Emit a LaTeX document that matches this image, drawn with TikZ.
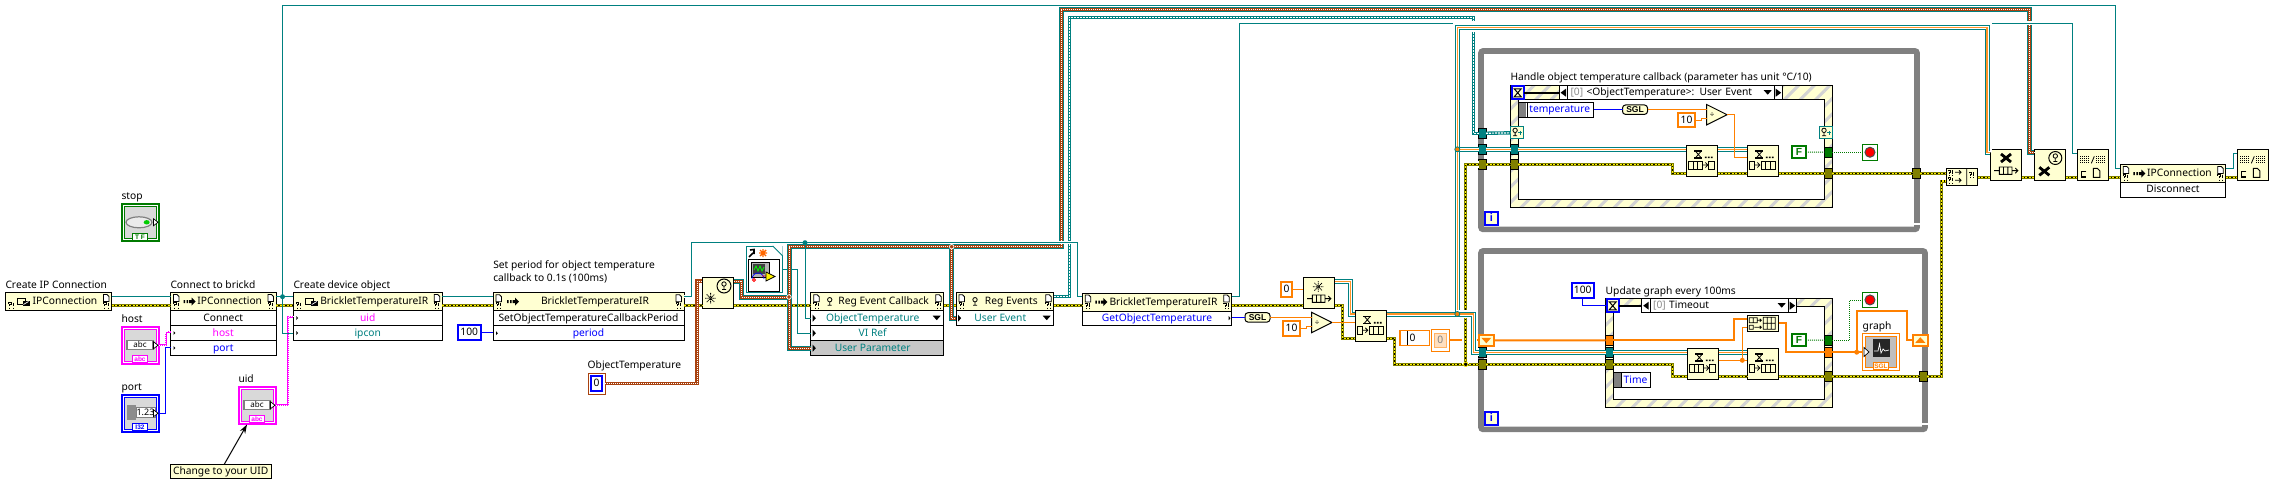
\documentclass[tikz,border=0pt]{standalone}
\usepackage{fontspec}
\setmainfont{Noto Sans}
\newfontfamily\lvtagfont{Liberation Sans}
\usetikzlibrary{arrows.meta,patterns.meta,shapes.geometric}
\definecolor{lvteal}{HTML}{008080}
\definecolor{lvbrown}{HTML}{A8420F}
\definecolor{lvorange}{HTML}{FF8000}
\definecolor{lvpink}{HTML}{FF00FF}
\definecolor{lvblue}{HTML}{0000FF}
\definecolor{lvgreen}{HTML}{007A00}
\definecolor{lvolive}{HTML}{808000}
\definecolor{lvgray}{HTML}{808080}
\definecolor{lvbeige}{HTML}{FFFFD2}
\newcommand{\lvfont}{\fontsize{10.25}{13}\selectfont}
\newcommand{\methodmarks}[1]{
  \pic at ([shift={(3,2)}]#1.north west) {docmark};
  \pic at ([shift={(3,-8)}]#1.south west) {errmark};
  \pic at ([shift={(-8,2)}]#1.north east) {docmark};
  \pic at ([shift={(-8,-8)}]#1.south east) {errmark};
}
\newcommand{\ctormarks}[1]{
  \pic at ([shift={(3,-8)}]#1.south west) {errmark};
  \pic at ([shift={(-8,2)}]#1.north east) {docmark};
  \pic at ([shift={(-8,-8)}]#1.south east) {errmark};
}
\newcommand{\selmarks}[1]{
  \pic at (#1.west) {selleft};
  \pic at (#1.east) {selright};
  \pic at ([xshift=-15pt]#1.east) {dropmark};
}
\tikzset{
  every node/.style={inner sep=0pt,outer sep=0pt,font=\lvfont,text height=8pt,text depth=2pt},
  lvlabel/.style={anchor=west},
  lvbox/.style={draw=black,line width=1pt,anchor=north west},
  lvhead/.style={lvbox,fill=lvbeige,minimum height=18pt,execute at begin node=\hspace*{13pt}},
  lvrow/.style={lvbox,fill=white,minimum height=15pt},
  regrow/.style={lvrow,text=lvteal,minimum width=133pt,execute at end node=\hspace*{9pt}},
  lvfunc/.style={lvbox,fill=lvbeige,minimum width=31.4pt,minimum height=31.4pt},
  lvctl/.style={anchor=north west,draw=#1,fill=white,line width=2pt,minimum size=36.5pt},
  lvtag/.style={draw=#1,fill=white,text=#1,line width=.8pt,font=\fontsize{6.5}{6.5}\selectfont\lvtagfont\bfseries,text height=5pt,text depth=0pt,minimum width=15pt,minimum height=7pt},
  lvconst/.style={anchor=north west,draw=#1,fill=white,line width=2pt},
  lvterm/.style={draw=black,fill=#1,line width=1pt,minimum size=7.5pt},
  dotjoin/.style={circle,fill=#1,minimum size=5pt,text height=0pt,text depth=0pt},
  evjoin/.style={circle,fill=lvbrown,draw=white,line width=.7pt,minimum size=4.5pt,text height=0pt,text depth=0pt},
  whileloop/.style={anchor=north west,draw=lvgray,line width=5.6pt,rounded corners=2pt},
  evframe/.style={lvbox,preaction={fill=lvbeige},pattern={Lines[angle=45,distance=11pt,line width=3pt]},pattern color=lvgray!35},
  evinner/.style={lvbox,fill=white},
  looptag/.style={anchor=north west,draw=lvblue,line width=2pt,fill=lvbeige,text=lvblue,font=\fontsize{11}{13}\selectfont\lvtagfont\bfseries,minimum size=13pt},
  selbox/.style={lvbox,fill=white,minimum height=14pt,align=left,execute at begin node=\hspace*{11.5pt}},
  evdata/.style={lvbox,fill=white,text=lvblue,minimum height=15pt,execute at begin node=\hspace*{7pt}},
  evport/.style={lvbox,draw=lvteal,fill=lvbeige,minimum width=13.4pt,minimum height=11.7pt},
  waitbox/.style={anchor=north west,draw=lvblue,line width=2pt,fill=lvbeige,minimum width=12pt,minimum height=13pt},
  stopbox/.style={anchor=north west,draw=lvgreen,fill=white,line width=1pt,minimum size=15.5pt},
  shiftreg/.style={anchor=north west,draw=lvorange,line width=2pt,fill=lvbeige,minimum width=15pt,minimum height=10.5pt},
  sglnode/.style={lvbox,fill=lvbeige,rounded corners=3pt,font=\fontsize{8.5}{9}\selectfont\lvtagfont\bfseries,minimum width=25pt,minimum height=9.4pt,text height=6.5pt,text depth=0pt},
  divnode/.style={draw=black,line width=1pt,fill=lvbeige,isosceles triangle,isosceles triangle stretches,minimum width=20.5pt,minimum height=20.5pt,anchor=apex,font=\fontsize{8}{8}\selectfont,text height=5pt,text depth=0pt},
  tealwire/.style={draw=lvteal,line width=1pt},
  bluewire/.style={draw=lvblue,line width=1pt},
  numwire/.style={draw=lvorange,line width=1pt},
  thickwire/.style={draw=lvorange,line width=2pt},
  boolwire/.style={draw=lvgreen,line width=1pt,dash pattern=on 1pt off 1pt},
  wiregap/.style={preaction={draw=white,line width=#1}},
  errwire/.style={draw=black,line width=1.5pt,preaction={draw=lvolive,line width=3pt},postaction={draw=yellow,line width=1.5pt,dash pattern=on 2pt off 1.5pt}},
  eventwire/.style={draw=lvbrown,line width=3pt,preaction={draw=lvteal,line width=5pt},postaction={draw=white,line width=1pt,dash pattern=on 1pt off 1pt}},
  enumwire/.style={draw=lvbrown,line width=3.6pt,postaction={draw=white,line width=1pt,dash pattern=on 1pt off 1pt}},
  regwire/.style={draw=lvteal,line width=3.4pt,postaction={draw=white,line width=1.2pt,dash pattern=on 2pt off 1pt}},
  queuewire/.style={draw=lvorange!85,line width=1.2pt,preaction={draw=lvteal,line width=5pt},preaction={draw=white,line width=3pt}},
  strwire/.style={draw=lvpink,line width=2pt,postaction={draw=white,line width=.8pt,dash pattern=on 1pt off 1pt}},
  pics/docmark/.style={code={\draw[line width=.8pt,fill=white] (0,0) -- (3.5,0) -- (5.5,2) -- (5.5,7) -- (0,7) -- cycle;}},
  pics/errmark/.style={code={\draw[line width=.9pt] (0,1) -- (0,0) -- (2.5,0) -- (2.5,2) -- (1.3,2) -- (1.3,3.5) (1.3,5) -- (1.3,6) (4.5,0) -- (4.5,3.5) (4.5,5) -- (4.5,6);}},
  pics/ctorglyph/.style={code={\draw[line width=1pt] (0,-3) rectangle (8,3); \fill (5,-1) rectangle (12,4); \draw[white,line width=.7pt] (6,3) -- (11,0);}},
  pics/methglyph/.style={code={\fill (0,-1.5) rectangle (1.5,1.5) (3,-1.5) rectangle (4.5,1.5) (5.5,-1.5) rectangle (9,1.5); \fill (8,-4) -- (12,0) -- (8,4) -- cycle;}},
  pics/antenna/.style={code={\draw[line width=.8pt] (0,-2) circle (2.2) (0,.2) -- (0,3.5) (-2,3.5) -- (2,3.5);}},
  pics/portmark/.style={code={\fill (0,-#1) -- (#1*.9,0) -- (0,#1) -- cycle;}},
  pics/outmark/.style={code={\draw[line width=.7pt,fill=white] (-5,-3.5) -- (-.5,0) -- (-5,3.5) -- cycle;}},
  pics/dropmark/.style={code={\fill (-4,-2.5) -- (4,-2.5) -- (0,2) -- cycle;}},
  pics/selleft/.style={code={\fill (1.5,0) -- (7,-4) -- (7,4) -- cycle; \draw (8.4,-7) -- (8.4,7);}},
  pics/selright/.style={code={\fill (-1.5,0) -- (-7,-4) -- (-7,4) -- cycle; \draw (-8.4,-7) -- (-8.4,7);}},
  pics/stargl/.style={code={\draw[line width=.8pt,dash pattern=on 1pt off .6pt] (-#1,0) -- (#1,0) (0,-#1) -- (0,#1) (-#1*.7,-#1*.7) -- (#1*.7,#1*.7) (-#1*.7,#1*.7) -- (#1*.7,-#1*.7);}},
  pics/boldx/.style={code={\draw[line width=2.8pt] (-5,-4) -- (5,4) (-5,4) -- (5,-4);}},
  pics/hourgl/.style={code={\draw[line width=1.3pt] (8,6) -- (16,6) (8,13) -- (16,13); \draw[line width=.8pt] (9,6) -- (15,13) (15,6) -- (9,13); \fill (18.5,11.5) rectangle +(1.7,1.7) (21.5,11.5) rectangle +(1.7,1.7) (24.5,11.5) rectangle +(1.7,1.7);}},
  pics/enqgl/.style={code={\draw[line width=.9pt] (2.5,16) rectangle (7,24.5) (14,16) rectangle (28,24.5) (18.6,16) -- (18.6,24.5) (23.3,16) -- (23.3,24.5); \draw[line width=.8pt] (7,20) -- (12.5,20) (10,17.5) -- (12.5,20) -- (10,22.5);}},
  pics/deqgl/.style={code={\draw[line width=.9pt] (2.5,16) rectangle (16,24.5) (22,16) rectangle (28,24.5) (7,16) -- (7,24.5) (11.5,16) -- (11.5,24.5); \draw[line width=.8pt] (16,20) -- (21.5,20) (19,17.5) -- (21.5,20) -- (19,22.5);}},
  pics/queuegl/.style={code={\draw[line width=.9pt] (9,17.7) rectangle (21.7,25) (13.2,17.7) -- (13.2,25) (17.5,17.7) -- (17.5,25) (3.7,21.3) -- (9,21.3) (21.7,21.3) -- (27.6,21.3) (25,18.7) -- (27.6,21.3) -- (25,24);}},
  pics/closegl/.style={code={\draw[line width=1pt,dash pattern=on 1pt off 1pt] (3,7.5) -- (12,7.5) (3,9.5) -- (12,9.5) (3,11.5) -- (12,11.5) (3,13.5) -- (12,13.5) (19,7.5) -- (28,7.5) (19,9.5) -- (28,9.5) (19,11.5) -- (28,11.5) (19,13.5) -- (28,13.5); \draw[line width=.8pt] (14,14) -- (17,7); \draw[line width=1.6pt] (9,22) -- (4,22) -- (4,27.5) -- (9,27.5); \draw[line width=.9pt] (16,19) -- (20,19) -- (22.5,21.5) -- (22.5,28) -- (16,28) -- cycle;}},
  pics/buildgl/.style={code={\draw[line width=.8pt] (2,2.5) rectangle (10,7.5) (6,2.5) -- (6,7.5) (2,10) rectangle (6,14) (10,5) -- (14,5) (7,12) -- (14,12) (12.5,3.5) -- (14,5) -- (12.5,6.5) (12.5,10.5) -- (14,12) -- (12.5,13.5) (16,2) rectangle (28,14) (20,2) -- (20,14) (24,2) -- (24,14) (16,8) -- (28,8);}},
  pics/mergegl/.style={code={\draw[line width=.8pt] (9,4) -- (15,4) (9,12) -- (15,12) (13,2) -- (15,4) -- (13,6) (13,10) -- (15,12) -- (13,14) (20.7,0) -- (20.7,17);}},
  pics/vigl/.style={code={\draw[line width=1pt,fill=white] (2.3,13.3) rectangle (33.3,45); \draw[line width=1pt,fill=lvgray!60] (5.7,16.7) rectangle (23.3,31.7); \fill[black!75] (7,18) rectangle (19,28); \draw[green,line width=.8pt] (8,24) -- (10,20) -- (12,25) -- (14,20) -- (16,25) -- (18,21); \draw[lvblue,line width=.7pt] (6,33) arc (180:360:6); \draw[red,line width=.8pt] (8,34) circle (1.5) (16,30) -- (28,30); \fill[yellow] (20,26) -- (29,30.5) -- (20,35) -- cycle; \draw[line width=.7pt] (20,26) -- (29,30.5) -- (20,35) -- cycle; \draw[line width=1.6pt] (3,11) -- (7,7) (4,4) -- (8,3.5) -- (8,8); \draw[lvorange!80!red,line width=1.4pt] (13,7) -- (21,7) (17,3) -- (17,11) (14,4) -- (20,10) (14,10) -- (20,4);}}
}
\begin{document}
\begin{tikzpicture}[x=1pt,y=-1pt,line width=1pt]
\useasboundingbox (0,0) rectangle (2274,484);
\coordinate (refrow) at (0,296.7);
\coordinate (errrow) at (0,305.3);
\node[whileloop,minimum width=436pt,minimum height=178.3pt] (loopA) at (1481,51) {};
\fill[white] (1914,223.3) rectangle (1921,224.8);
\node[whileloop,minimum width=444pt,minimum height=178.3pt] (loopB) at (1481,251) {};
\fill[white] (1921,423.3) rectangle (1928.5,424.8);
\node[looptag] (iterA) at (1485,212.3) {i};
\node[looptag] (iterB) at (1485,412.3) {i};
\node[evframe,minimum width=321.6pt,minimum height=122pt] (evA) at (1510.7,85.3) {};
\node[evinner,minimum width=306pt,minimum height=99.3pt] (evAin) at (1518.7,100) {};
\node[evframe,minimum width=226.6pt,minimum height=109pt] (evB) at (1605.7,298.3) {};
\node[evinner,minimum width=211.4pt,minimum height=93pt] (evBin) at (1613.3,306.3) {};
\node[lvlabel] (lbstop) at (121.5,196) {stop};
\node[lvlabel] (lbhost) at (121.5,319.5) {host};
\node[lvlabel] (lbport) at (121.5,387.5) {port};
\node[lvlabel] (lbuid) at (238.5,379) {uid};
\node[lvlabel] (lbipcon) at (5.5,285.3) {Create IP Connection};
\node[lvlabel] (lbconnect) at (170.5,285.3) {Connect to brickd};
\node[lvlabel] (lbdevice) at (293.5,285.3) {Create device object};
\node[lvlabel,align=left] (lbperiod) at (493.3,278.5) {Set period for object temperature\\callback to 0.1s (100ms)};
\node[lvlabel] (lbenum) at (587.7,365) {ObjectTemperature};
\node[lvlabel] (lbgraph) at (1862.7,326) {graph};
\node[lvlabel] (lbhandle) at (1510.5,78) {Handle object temperature callback (parameter has unit °C/10)};
\node[lvlabel] (lbupdate) at (1605.7,291) {Update graph every 100ms};
\node[lvctl=lvgreen] (stopctl) at (122,204) {};
\draw[lvgreen,fill=black!15,line width=.8pt] (124.5,206.5) rectangle (156.5,238.5);
\draw[black!50,fill=black!8,line width=1.2pt] (139,222.3) ellipse (13 and 5.5);
\fill[green!80!black] (146.7,222.3) ellipse (3 and 2.2);
\node[lvtag=lvgreen] (stoptag) at (140,236.5) {T F};
\node[lvctl=lvpink] (hostctl) at (122,327) {};
\draw[lvpink,fill=black!15,line width=.8pt] (124.5,329.5) rectangle (156.5,361.5);
\node[draw=black!50,fill=white,line width=1.5pt,minimum width=26pt,minimum height=9pt,font=\fontsize{8}{8}\selectfont,text height=5.5pt,text depth=0pt] (hostval) at (140,345) {abc};
\node[lvtag=lvpink] (hosttag) at (140,359.3) {abc};
\node[lvctl=lvblue] (portctl) at (122,395) {};
\draw[lvblue,fill=black!15,line width=.8pt] (124.5,397.5) rectangle (156.5,429.5);
\fill[black!45] (127,405) rectangle (136,420);
\node[draw=black!50,fill=white,line width=1pt,minimum width=19pt,minimum height=9.6pt,font=\fontsize{9}{9}\selectfont,text height=6.5pt,text depth=0pt] (portval) at (145.5,412.6) {1.23};
\node[lvtag=lvblue] (porttag) at (140,427.3) {I32};
\node[lvctl=lvpink] (uidctl) at (239,387) {};
\draw[lvpink,fill=black!15,line width=.8pt] (241.5,389.5) rectangle (273.5,421.5);
\node[draw=black!50,fill=white,line width=1.5pt,minimum width=26pt,minimum height=9pt,font=\fontsize{8}{8}\selectfont,text height=5.5pt,text depth=0pt] (uidval) at (257,405) {abc};
\node[lvtag=lvpink] (uidtag) at (257,419.3) {abc};
\node[lvhead,minimum width=106pt] (ipconn) at (5.5,292.5) {IPConnection};
\node[lvhead,minimum width=105.5pt] (connect) at (170.5,292.5) {IPConnection};
\node[lvrow,minimum width=105.5pt] (connectA) at (170.5,310.5) {Connect};
\node[lvrow,minimum width=105.5pt,text=lvpink] (connectB) at (170.5,325.5) {host};
\node[lvrow,minimum width=105.5pt,text=lvblue] (connectC) at (170.5,340.5) {port};
\node[lvhead,minimum width=149pt] (device) at (293.3,292.5) {BrickletTemperatureIR};
\node[lvrow,minimum width=149pt,text=lvpink] (deviceA) at (293.3,310.5) {uid};
\node[lvrow,minimum width=149pt,text=lvteal] (deviceB) at (293.3,325.5) {ipcon};
\node[lvconst=lvblue,minimum width=22.5pt,minimum height=15pt] (hundredA) at (458,325) {100};
\node[lvhead,minimum width=191pt] (setperiod) at (493,292.7) {BrickletTemperatureIR};
\node[lvrow,minimum width=191pt] (setperiodA) at (493,310.7) {SetObjectTemperatureCallbackPeriod};
\node[lvrow,minimum width=191pt,text=lvblue] (setperiodB) at (493,325.7) {period};
\node[lvconst=lvbrown,minimum width=17pt,minimum height=21pt,line width=1pt] (objenum) at (588,373) {};
\node[draw=lvblue,line width=2pt,fill=white,minimum width=11pt,minimum height=15pt] (objval) at (596.5,383.5) {0};
\node[lvfunc] (mkevent) at (702.3,277.3) {};
\node[lvbox,draw=lvteal,fill=white,minimum width=36.7pt,minimum height=46pt] (vifile) at (746,246) {};
\node[lvhead,minimum width=133pt] (regcb) at (810.7,292.7) {Reg Event Callback};
\node[regrow] (regcbA) at (810.7,310.7) {ObjectTemperature};
\node[regrow] (regcbB) at (810.7,325.7) {VI Ref};
\node[regrow,fill=black!22] (regcbC) at (810.7,340.7) {User Parameter};
\node[lvhead,minimum width=97.7pt] (regev) at (956,292.7) {Reg Events};
\node[regrow,minimum width=97.7pt] (regevA) at (956,310.7) {User Event};
\node[lvhead,minimum width=149.4pt] (getval) at (1082.3,293) {BrickletTemperatureIR};
\node[lvrow,minimum width=149.4pt,minimum height=14.3pt,text=lvblue] (getvalA) at (1082.3,311) {GetObjectTemperature};
\node[sglnode] (sgl) at (1245,312.7) {SGL};
\node[lvconst=lvorange,minimum width=10.5pt,minimum height=14.5pt] (zeroA) at (1281.3,282.3) {0};
\node[lvconst=lvorange,minimum width=16.5pt,minimum height=14.5pt] (tenA) at (1283.3,321.3) {10};
\node[divnode] (divA) at (1332,322.5) {÷};
\node[lvfunc] (mkqueue) at (1303.3,277.3) {};
\node[lvfunc] (enq) at (1355.3,310.3) {};
\node[lvconst=lvorange,line width=1.5pt,minimum width=29.5pt,minimum height=15pt,text width=29.5pt,align=left] (arrconst) at (1400,330.5) {\hspace*{9.5pt}0};
\node[lvconst=lvorange,line width=1pt,minimum width=18.5pt,minimum height=22pt] (arrshow) at (1431,329.3) {};
\node[draw=lvorange!60,fill=lvorange!25,text=black!50,minimum width=12pt,minimum height=14pt,line width=1pt] (arrval) at (1440.2,340.3) {0};
\node[shiftreg] (srL) at (1478.8,335) {};
\node[shiftreg] (srR) at (1912.8,335) {};
\node[lvterm=lvteal] (tuA1) at (1482.3,133.3) {};
\node[lvterm=lvteal] (tuA2) at (1482.3,149.3) {};
\node[lvterm=lvolive] (tuA3) at (1482.3,164.3) {};
\node[lvterm=lvolive] (tuA4) at (1916.3,173.3) {};
\node[lvterm=lvteal] (tuB2) at (1482.3,352.4) {};
\node[lvterm=lvolive] (tuB3) at (1482.3,364.3) {};
\node[lvterm=lvolive] (tuB4) at (1923.3,376.3) {};
\node[lvterm=lvteal] (tcA2) at (1514.3,149.3) {};
\node[lvterm=lvolive] (tcA3) at (1514.3,164.3) {};
\node[lvterm=lvgreen] (tcA5) at (1828.3,152.3) {};
\node[lvterm=lvolive] (tcA4) at (1828.3,173.3) {};
\node[lvterm=lvorange] (tcB1) at (1609.3,340.3) {};
\node[lvterm=lvteal] (tcB2) at (1609.3,352.4) {};
\node[lvterm=lvolive] (tcB3) at (1609.3,364.3) {};
\node[lvterm=lvgreen] (tcB5) at (1828.3,340.3) {};
\node[lvterm=lvorange] (tcB6) at (1828.3,352.2) {};
\node[lvterm=lvolive] (tcB4) at (1828.3,376.3) {};
\node[evport] (evportA) at (1510.4,127) {};
\node[evport] (evportB) at (1819.3,127) {};
\node[waitbox] (waitA) at (1511.7,86.3) {};
\node[waitbox] (waitB) at (1606.7,299.3) {};
\node[selbox,text width=223.7pt] (selA) at (1559,85.7) {{\color{black!45}[0]} <ObjectTemperature>: User Event};
\node[selbox,text width=155pt] (selB) at (1641.7,298.7) {{\color{black!45}[0]} Timeout};
\node[evdata,minimum width=75pt] (tempdata) at (1518.7,102.3) {temperature};
\node[evdata,minimum width=37.4pt] (timedata) at (1613.3,372.5) {Time};
\node[sglnode] (sglB) at (1622.5,105) {SGL};
\node[lvconst=lvorange,minimum width=16.5pt,minimum height=14.5pt] (tenB) at (1678.3,113) {10};
\node[divnode] (divB) at (1727,114.7) {÷};
\node[lvfunc] (deqA) at (1686.3,145) {};
\node[lvfunc] (enqA) at (1747.3,145) {};
\node[lvconst=lvgreen,minimum width=14pt,minimum height=12pt,text=lvgreen,font=\lvfont\lvtagfont\bfseries] (falseA) at (1792,146) {F};
\node[stopbox] (stopA) at (1862.2,144.5) {};
\node[lvconst=lvblue,minimum width=22pt,minimum height=15pt] (hundredB) at (1571.7,283.3) {100};
\node[lvfunc] (deqB) at (1687.3,348) {};
\node[lvfunc] (enqB) at (1747.3,348) {};
\node[lvbox,fill=lvbeige,minimum width=31.4pt,minimum height=16pt] (build) at (1747.3,315.3) {};
\node[lvconst=lvgreen,minimum width=14pt,minimum height=12pt,text=lvgreen,font=\lvfont\lvtagfont\bfseries] (falseB) at (1792,334) {F};
\node[stopbox] (stopB) at (1862.2,292.2) {};
\node[lvbox,draw=lvorange,fill=white,minimum width=37.7pt,minimum height=37.4pt] (graph) at (1862,333.3) {};
\draw[lvorange,fill=black!25,line width=.8pt] (1865,336) rectangle (1896.7,367.5);
\fill[black!85] (1873.3,339.3) rectangle (1890,356.7);
\draw[white,line width=.7pt] (1874,351) -- (1878,351) -- (1879.5,344) -- (1881,353) -- (1883,349) -- (1885,351) -- (1889,350);
\node[lvtag=lvorange] (graphtag) at (1881,365.7) {SGL};
\node[lvbox,fill=lvbeige,minimum width=31.7pt,minimum height=17pt] (merge) at (1946,168.3) {};
\node[lvfunc] (relq) at (1990.3,149.3) {};
\node[lvfunc] (destroy) at (2034.3,149.3) {};
\node[lvfunc] (closeA) at (2077.3,149.3) {};
\node[lvhead,minimum width=105.4pt] (disc) at (2120.3,164.5) {IPConnection};
\node[lvrow,minimum width=105.4pt,minimum height=14.6pt] (discA) at (2120.3,182.5) {Disconnect};
\node[lvfunc] (closeB) at (2237.3,149.3) {};
\node[lvbox,fill=lvbeige,minimum width=100.5pt,minimum height=14.5pt] (note) at (170.5,464.3) {Change to your UID};
\coordinate (jA) at (282.5,296.7);
\coordinate (jB) at (805,242.7);
\coordinate (jC) at (789,297);
\coordinate (jD) at (951.7,246.7);
\coordinate (jE) at (1457.3,314);
\coordinate (jF) at (1457.3,149.3);
\coordinate (jG) at (1465.7,364.3);
\coordinate (jH) at (1856.7,352.2);
\coordinate (jI) at (1742.3,360.3);
\coordinate (cA) at (165.7,331.7);
\coordinate (cB) at (165.3,347.5);
\coordinate (cC) at (288.3,316.7);
\coordinate (cD) at (2115.7,5.3);
\coordinate (cE) at (2115.7,168.3);
\coordinate (cF) at (691.7,242.7);
\coordinate (cG) at (1077.7,242.7);
\coordinate (cH) at (797.3,300);
\coordinate (cI) at (1239.3,23.3);
\coordinate (cJ) at (2072.7,153.3);
\coordinate (cK) at (2233.3,153.3);
\coordinate (cL) at (697,281);
\coordinate (cM) at (741.7,297);
\coordinate (cN) at (1061,246.7);
\coordinate (cO) at (2029.3,9.3);
\coordinate (cP) at (2029.3,152.7);
\coordinate (cQ) at (1069.3,17.3);
\coordinate (cR) at (1473.5,133.3);
\coordinate (cS) at (1350.5,314);
\coordinate (cT) at (1987,27.5);
\coordinate (cU) at (1986,152.7);
\coordinate (cV) at (1473.3,352.4);
\coordinate (cW) at (1342.3,338.3);
\coordinate (cX) at (1394.7,364.3);
\coordinate (cY) at (1672.7,173.3);
\coordinate (cZ) at (1672.7,376.3);
\coordinate (dA) at (1941.7,181);
\coordinate (dB) at (1306,326.7);
\coordinate (dC) at (1701,119);
\coordinate (dD) at (1734.7,157.7);
\coordinate (dE) at (1733.7,319);
\coordinate (dF) at (1785.7,352.2);
\coordinate (dG) at (1907,310.7);
\coordinate (dH) at (1849.7,300);
\coordinate (dI) at (1747.3,327.3);
\coordinate (dJ) at (0,177.3);
\coordinate (dK) at (0,149.3);
\coordinate (dL) at (0,352.4);
\coordinate (dM) at (0,360.3);
\coordinate (dN) at (1335,281.7);
\draw[errwire] (ipconn.east |- errrow) -- (connect.west |- errrow);
\draw[errwire] (connect.east |- errrow) -- (device.west |- errrow);
\draw[errwire] (device.east |- errrow) -- (setperiod.west |- errrow);
\draw[errwire] (setperiod.east |- errrow) -- (mkevent.west |- errrow);
\draw[errwire] (mkevent.east |- errrow) -- (regcb.west |- errrow);
\draw[errwire] (regcb.east |- errrow) -- (regev.west |- errrow);
\draw[errwire] (regev.east |- errrow) -- (getval.west |- errrow);
\draw[errwire] (getval.east |- errrow) -- (mkqueue.west |- errrow);
\draw[errwire] (mkqueue.east |- errrow) -| (cW) -- (enq.west |- cW);
\draw[errwire] (merge.east |- dJ) -- (relq.west |- dJ);
\draw[errwire] (relq.east |- dJ) -- (destroy.west |- dJ);
\draw[errwire] (destroy.east |- dJ) -- (closeA.west |- dJ);
\draw[errwire] (closeA.east |- dJ) -- (disc.west |- dJ);
\draw[errwire] (disc.east |- dJ) -- (closeB.west |- dJ);
\draw[errwire] (tuA3) -- (tcA3);
\draw[errwire] (tcA3) -| (cY) -- (deqA.west |- cY);
\draw[errwire] (deqA.east |- cY) -- (enqA.west |- cY);
\draw[errwire] (enqA.east |- cY) -- (tcA4);
\draw[errwire] (tcA4) -- (tuA4);
\draw[errwire] (tuA4) -- (merge.west |- tuA4);
\draw[errwire] (tuB3) -- (tcB3);
\draw[errwire] (tcB3) -| (cZ) -- (deqB.west |- cZ);
\draw[errwire] (deqB.east |- cZ) -- (enqB.west |- cZ);
\draw[errwire] (enqB.east |- cZ) -- (tcB4);
\draw[errwire] (tcB4) -- (tuB4);
\draw[errwire] (tuB4) -| (dA) -- (merge.west |- dA);
\draw[errwire] (enq.east |- cW) -| (cX) -- (tuB3);
\draw[thickwire] (arrshow.east |- srL) -- (srL.west);
\draw[wiregap=7pt,errwire] (jG) |- (tuA3);
\draw[strwire] (hostctl.east) -| (cA) -- (connectB.west |- cA);
\draw[strwire] (uidctl.east) -| (cC) -- (deviceA.west |- cC);
\draw[bluewire] (portctl.east) -| (cB) -- (connectC.west |- cB);
\draw[bluewire] (hundredA.east) -- (setperiodB.west |- hundredA.east);
\draw[bluewire] (getvalA.east |- sgl.west) -- (sgl.west);
\draw[bluewire] (tempdata.east) -- (tempdata.east -| sglB.west);
\draw[bluewire] (hundredB.south) |- (waitB.west);
\draw[tealwire] (ipconn.east |- refrow) -- (connect.west |- refrow);
\draw[tealwire] (connect.east |- refrow) -- (jA) -- (device.west |- refrow);
\draw[tealwire] (jA) |- (deviceB.west);
\draw[tealwire] (device.east |- refrow) -- (setperiod.west |- refrow);
\draw[tealwire] (vifile.east) -| (cH) |- (regcbB.west);
\draw[enumwire] (objenum.east) -| (cL) -- (mkevent.west |- cL);
\draw[eventwire] (mkevent.east |- cL) -| (cM) -- (jC);
\draw[eventwire] (jC) |- (regcbC.west);
\draw[eventwire] (jC) |- (cN) |- (cO) |- (destroy.west |- cP);
\draw[eventwire] (jD) |- (regevA.west);
\draw[regwire] (regev.east |- refrow) -| (cQ) -| (cR) -- (tuA1);
\draw[regwire] (tuA1) -- (evportA.west);
\draw[tealwire,wiregap=4pt] (jA) |- (cD) -- (cE) -- (disc.west |- cE);
\draw[tealwire,wiregap=3pt] (setperiod.east |- refrow) -| (cF) -- (cG) |- (getval.west |- refrow);
\draw[tealwire] (jB) |- (regcbA.west);
\draw[tealwire,wiregap=4pt] (getval.east |- refrow) -| (cI) -| (cJ) -- (closeA.west |- cJ);
\draw[tealwire] (disc.east |- cE) -| (cK) -- (closeB.west |- cK);
\draw[queuewire] (dN) -| (cS) -- (enq.west |- cS);
\draw[wiregap=9pt,queuewire] (enq.east |- cS) -- (jE) |- (cT) |- (relq.west |- cU);
\draw[queuewire] (jF) -- (tuA2);
\draw[wiregap=8pt,queuewire] (jE) -| (cV) -- (tuB2);
\draw[queuewire] (tuA2) -- (tcA2);
\draw[queuewire] (tcA2) -- (deqA.west |- dK);
\draw[queuewire] (deqA.east |- dK) -- (enqA.west |- dK);
\draw[queuewire] (tuB2) -- (tcB2);
\draw[queuewire] (tcB2) -- (deqB.west |- dL);
\draw[queuewire] (deqB.east |- dL) -- (enqB.west |- dL);
\draw[numwire] (zeroA.east) -- (mkqueue.west |- zeroA.east);
\draw[numwire] (sgl.east) -- (divA.west |- sgl.east);
\draw[numwire] (tenA.east) -| (dB) -- (divA.west |- dB);
\draw[numwire] (divA.apex) -- (enq.west |- divA.apex);
\draw[numwire] (sglB.east) -- (sglB.east -| divB.west);
\draw[numwire] (tenB.east) -| (dC) -- (divB.west |- dC);
\draw[numwire] (divB.apex) -| (dD) -- (enqA.west |- dD);
\draw[numwire] (deqB.east |- dM) -- (jI) -- (enqB.west |- dM);
\draw[numwire] (jI) |- (dI);
\draw[thickwire] (srL.east) -- (tcB1);
\draw[thickwire] (tcB1) -| (dE) -- (build.west |- dE);
\draw[thickwire] (build.east) -| (dF) -- (tcB6);
\draw[thickwire] (tcB6) -- (jH) -- (graph.west |- jH);
\draw[thickwire] (jH) |- (dG) |- (srR.west);
\draw[boolwire] (falseA.east) -- (tcA5);
\draw[boolwire] (tcA5) -- (stopA.west |- tcA5);
\draw[boolwire] (falseB.east) -- (tcB5);
\draw[boolwire] (tcB5) -| (dH) -- (stopB.west |- dH);
\draw[line width=1.6pt] (waitA.east) -- (selA.west |- waitA.east);
\draw[line width=1.6pt] (waitB.east) -- (selB.west |- waitB.east);
\draw[line width=1pt,-{Stealth[length=9pt,width=6pt]}] ([xshift=3.5pt]note.north) -- ([xshift=8pt,yshift=-1pt]uidctl.south west);
\node[dotjoin=lvteal] (jAdot) at (jA) {};
\node[dotjoin=lvteal] (jBdot) at (jB) {};
\node[evjoin] (jCdot) at (jC) {};
\node[evjoin] (jDdot) at (jD) {};
\node[dotjoin=lvorange,draw=lvteal,line width=.8pt] (jEdot) at (jE) {};
\node[dotjoin=lvorange,draw=lvteal,line width=.8pt] (jFdot) at (jF) {};
\node[dotjoin=black,draw=yellow,line width=.8pt,minimum size=4.5pt] (jGdot) at (jG) {};
\node[dotjoin=lvorange] (jHdot) at (jH) {};
\node[dotjoin=lvorange] (jIdot) at (jI) {};
\ctormarks{ipconn}
\methodmarks{connect}
\ctormarks{device}
\methodmarks{setperiod}
\methodmarks{regcb}
\methodmarks{regev}
\methodmarks{getval}
\methodmarks{disc}
\pic at ([shift={(12,0)}]ipconn.west) {ctorglyph};
\pic at ([shift={(13,0)}]connect.west) {methglyph};
\pic at ([shift={(12.5,0)}]device.west) {ctorglyph};
\pic at ([shift={(14,0)}]setperiod.west) {methglyph};
\pic at ([shift={(19,0)}]regcb.west) {antenna};
\pic at ([shift={(19,0)}]regev.west) {antenna};
\pic at ([shift={(13,0)}]getval.west) {methglyph};
\pic at ([shift={(13,0)}]disc.west) {methglyph};
\pic at ([xshift=3pt]connectB.west) {portmark=2};
\pic at ([xshift=3pt]connectC.west) {portmark=2};
\pic at ([xshift=3pt]deviceA.west) {portmark=2};
\pic at ([xshift=3pt]deviceB.west) {portmark=2};
\pic at ([xshift=3pt]setperiodB.west) {portmark=2};
\pic at ([xshift=2pt]regcbA.west) {portmark=3.5};
\pic at ([xshift=2pt]regcbB.west) {portmark=3.5};
\pic at ([xshift=2pt]regcbC.west) {portmark=3.5};
\pic at ([xshift=2pt]regevA.west) {portmark=3.5};
\pic at ([xshift=-7pt]regcbA.east) {dropmark};
\pic at ([xshift=-7pt]regevA.east) {dropmark};
\pic at ([xshift=-3pt]getvalA.east) {portmark=2};
\pic at (stopctl.east) {outmark};
\pic at (hostctl.east) {outmark};
\pic at (portctl.east) {outmark};
\pic at (uidctl.east) {outmark};
\draw[line width=.7pt,fill=white] (1864,347.5) -- (1869,352) -- (1864,356.5) -- cycle;
\draw[line width=1pt] ([shift={(21.7,8.7)}]mkevent.north west) circle (7);
\pic at ([shift={(21.7,8.7)}]mkevent.north west) {antenna};
\pic at ([shift={(8.3,21)}]mkevent.north west) {stargl=5.5};
\pic at ([shift={(15,9.4)}]mkqueue.north west) {stargl=5.5};
\pic at (mkqueue.north west) {queuegl};
\pic at (enq.north west) {hourgl};
\pic at (enq.north west) {enqgl};
\pic at (deqA.north west) {hourgl};
\pic at (deqA.north west) {deqgl};
\pic at (enqA.north west) {hourgl};
\pic at (enqA.north west) {enqgl};
\pic at (deqB.north west) {hourgl};
\pic at (deqB.north west) {deqgl};
\pic at (enqB.north west) {hourgl};
\pic at (enqB.north west) {enqgl};
\pic at (build.north west) {buildgl};
\pic at (merge.north west) {mergegl};
\pic at ([shift={(2,2)}]merge.north west) {errmark};
\pic at ([shift={(2,9.5)}]merge.north west) {errmark};
\pic at ([shift={(23,4)}]merge.north west) {errmark};
\pic at ([shift={(15.7,8.7)}]relq.north west) {boldx};
\pic at (relq.north west) {queuegl};
\pic at ([shift={(10,22)}]destroy.north west) {boldx};
\draw[line width=1pt] ([shift={(21,8.7)}]destroy.north west) circle (6.5);
\pic at ([shift={(21,8.7)}]destroy.north west) {antenna};
\pic at (closeA.north west) {closegl};
\pic at (closeB.north west) {closegl};
\pic at (vifile.north west) {vigl};
\fill[white] ([xshift=-10pt]vifile.north east) -- (vifile.north east) -- ([yshift=-10pt]vifile.north east) -- cycle;
\draw[lvteal,line width=1pt] ([xshift=-10pt]vifile.north east) -- ([yshift=-10pt]vifile.north east);
\selmarks{selA}
\selmarks{selB}
\fill[lvgray] (1519.2,102.8) rectangle (1525.6,116.8);
\fill[lvgray] (1613.8,373) rectangle (1620.6,387);
\draw[line width=.8pt] (1527,102) -- (1527,117.5);
\draw[line width=.8pt] (1621.5,372.5) -- (1621.5,387.5);
\pic at ([shift={(-2,-.5)}]evportA.center) {antenna};
\pic at ([shift={(-2,-.5)}]evportB.center) {antenna};
\draw[lvteal,line width=.7pt] ([shift={(1,0)}]evportA.center) -- ([shift={(5,0)}]evportA.center) ([shift={(3,-2)}]evportA.center) -- ([shift={(3,2)}]evportA.center);
\draw[lvteal,line width=.7pt] ([shift={(1,0)}]evportB.center) -- ([shift={(5,0)}]evportB.center) ([shift={(3,-2)}]evportB.center) -- ([shift={(3,2)}]evportB.center);
\draw[line width=1pt] ([xshift=-3.5pt,yshift=4pt]waitA.center) -- ([xshift=3.5pt,yshift=4pt]waitA.center) -- ([xshift=-3.5pt,yshift=-4pt]waitA.center) -- ([xshift=3.5pt,yshift=-4pt]waitA.center) -- cycle;
\draw[line width=1pt] ([xshift=-3.5pt,yshift=4pt]waitB.center) -- ([xshift=3.5pt,yshift=4pt]waitB.center) -- ([xshift=-3.5pt,yshift=-4pt]waitB.center) -- ([xshift=3.5pt,yshift=-4pt]waitB.center) -- cycle;
\draw[fill=red,line width=1pt,draw=black!70] (stopA.center) circle (5);
\draw[fill=red,line width=1pt,draw=black!70] (stopB.center) circle (5);
\fill[lvorange] ([xshift=-5pt,yshift=2.5pt]srL.center) -- ([xshift=5pt,yshift=2.5pt]srL.center) -- ([yshift=-3pt]srL.center) -- cycle;
\fill[lvorange] ([xshift=-5pt,yshift=-2.5pt]srR.center) -- ([xshift=5pt,yshift=-2.5pt]srR.center) -- ([yshift=3pt]srR.center) -- cycle;
\draw[line width=.8pt] (1407,331) -- (1407,345);
\end{tikzpicture}
\end{document}
